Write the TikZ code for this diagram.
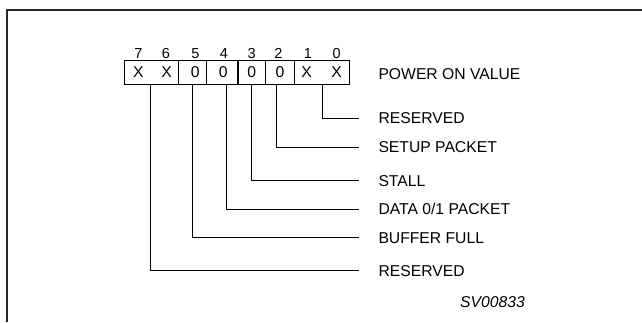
\documentclass[tikz,border=0pt]{standalone}
\usepackage{fontspec}
\setmainfont{Liberation Sans}
\begin{document}
\begin{tikzpicture}[x=1pt,y=-1pt,
  cellbox/.style={draw,line width=1.4pt,minimum height=24pt,inner sep=0pt,anchor=north west},
  bitnum/.style={font=\fontsize{14.5pt}{16pt}\selectfont,inner sep=0pt,text height=10.2pt,text depth=0pt},
  cellval/.style={font=\fontsize{15.7pt}{18pt}\selectfont,inner sep=0pt,text height=11.2pt,text depth=0pt},
  fieldlabel/.style={font=\fontsize{15.7pt}{18pt}\selectfont,inner sep=0pt,anchor=west,text height=11.2pt,text depth=0pt},
  leader/.style={line width=0.9pt},
  frame/.style={line width=1.4pt,draw=black!85}]
\useasboundingbox (0,0) rectangle (642,322);
% frame
\draw[frame] (7,322) -- (7,10) -- (642,10);
% register cells
\node[cellbox,minimum width=54pt] (c76) at (124,59.5) {};
\node[cellbox,minimum width=27.5pt] (c5) at (178,59.5) {};
\node[cellbox,minimum width=31.8pt] (c4) at (205.5,59.5) {};
\node[cellbox,minimum width=27.7pt] (c3) at (237.3,59.5) {};
\node[cellbox,minimum width=28.5pt] (c2) at (265,59.5) {};
\node[cellbox,minimum width=55.5pt] (c10) at (293.5,59.5) {};
% bit numbers
\node[bitnum] (n7) at (138.3,53) {7};
\node[bitnum] (n6) at (166,53) {6};
\node[bitnum] (n5) at (195.3,53) {5};
\node[bitnum] (n4) at (224,53) {4};
\node[bitnum] (n3) at (251.7,53) {3};
\node[bitnum] (n2) at (278.3,53) {2};
\node[bitnum] (n1) at (308,53) {1};
\node[bitnum] (n0) at (336.7,53) {0};
% cell values
\node[cellval] (v7) at (138.3,71.5) {X};
\node[cellval] (v6) at (166.5,71.5) {X};
\node[cellval] (v5) at (195.3,71.5) {0};
\node[cellval] (v4) at (223.3,71.5) {0};
\node[cellval] (v3) at (251.7,71.5) {0};
\node[cellval] (v2) at (280,71.5) {0};
\node[cellval] (v1) at (306.7,71.5) {X};
\node[cellval] (v0) at (336.7,71.5) {X};
% labels
\node[fieldlabel] (lpow) at (378.3,74) {POWER ON VALUE};
\node[fieldlabel] (l10) at (378.3,118.3) {RESERVED};
\node[fieldlabel] (l2) at (378.3,147.3) {SETUP PACKET};
\node[fieldlabel] (l3) at (378.3,180.7) {STALL};
\node[fieldlabel] (l4) at (378.3,209) {DATA 0/1 PACKET};
\node[fieldlabel] (l5) at (378.3,237.7) {BUFFER FULL};
\node[fieldlabel] (l76) at (378.3,270.7) {RESERVED};
\node[font=\fontsize{15.7pt}{18pt}\selectfont\itshape,inner sep=0pt,anchor=west,text height=11.2pt,text depth=0pt] (code) at (460,302) {SV00833};
% leader start points at bottom of register
\coordinate (t10) at (322.7,83.5);
\coordinate (t2) at (276.7,83.5);
\coordinate (t3) at (251.7,83.5);
\coordinate (t4) at (226,83.5);
\coordinate (t5) at (192.7,83.5);
\coordinate (t76) at (150.7,83.5);
% leaders
\draw[leader] (t10) |- ([xshift=-19pt]l10.west);
\draw[leader] (t2) |- ([xshift=-19pt]l2.west);
\draw[leader] (t3) |- ([xshift=-19pt]l3.west);
\draw[leader] (t4) |- ([xshift=-19pt]l4.west);
\draw[leader] (t5) |- ([xshift=-19pt]l5.west);
\draw[leader] (t76) |- ([xshift=-19pt]l76.west);
\end{tikzpicture}
\end{document}
